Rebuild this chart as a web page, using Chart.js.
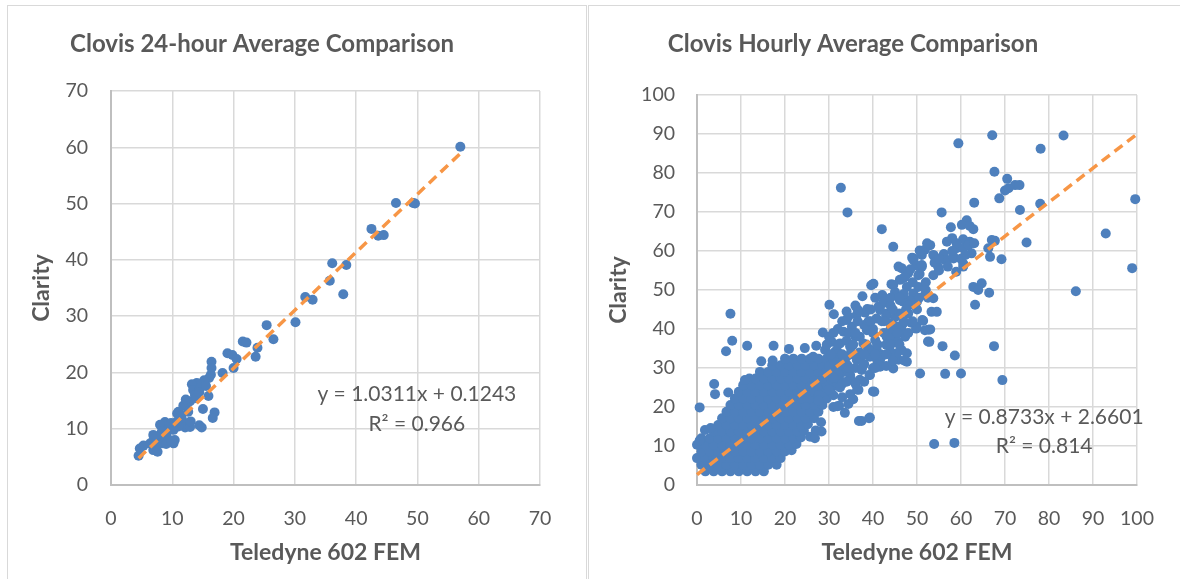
<!DOCTYPE html>
<html>
<head>
<meta charset="utf-8">
<title>Clovis comparison</title>
<script src="https://cdn.jsdelivr.net/npm/chart.js@4.4.1/dist/chart.umd.min.js"></script>
<style>
  html, body { margin: 0; padding: 0; background: #fff; overflow: hidden; }
  body { position: relative; width: 1180px; height: 579px; }
  .panel { position: absolute; border: 1px solid #d9d9d9; }
  #panelL { left: 7px; top: 5px; width: 578px; height: 600px; }
  #panelR { left: 588px; top: 5px; width: 620px; height: 600px; }
  canvas { position: absolute; top: 0; }
</style>
</head>
<body>
<div class="panel" id="panelL"></div>
<div class="panel" id="panelR"></div>
<canvas id="dailyChart" width="603" height="579" style="left:-16px"></canvas>
<canvas id="hourlyChart" width="611" height="579" style="left:569px"></canvas>

<script>
/* ===== 24-hour averages (Teledyne 602 FEM vs Clarity) ===== */
const dailyFem = [57.0, 46.5, 49.6, 49.3, 42.5, 43.6, 44.5, 36.1, 38.4, 35.7, 37.9, 31.7, 32.9, 30.1,
  25.4, 26.5, 21.5, 22.1, 23.9, 23.6, 19.0, 19.8, 20.5, 20.0, 16.4, 16.4, 18.2, 16.3, 16.0, 15.2,
  14.0, 13.2, 13.4, 14.5, 13.7, 15.9, 15.0, 16.9, 16.6, 12.5, 11.8, 11.0, 12.6, 10.8, 11.6, 11.8,
  12.1, 12.9, 14.4, 14.8, 11.0, 8.8, 8.0, 9.6, 9.3, 10.2, 6.9, 7.7, 9.1, 10.4, 10.2, 8.5, 7.5,
  5.3, 4.7, 6.9, 7.6, 4.5, 9.0, 9.9,
  12.9, 13.9, 14.4, 15.5, 11.5, 9.8, 8.3, 10.8, 13.0, 7.0, 6.4, 12.2];
const dailyClarity = [60.1, 50.1, 50.0, 50.1, 45.5, 44.3, 44.4, 39.4, 39.1, 36.3, 33.9, 33.4, 32.9, 28.9,
  28.4, 25.9, 25.5, 25.3, 24.4, 22.8, 23.4, 23.1, 22.4, 20.8, 21.9, 20.8, 19.9, 19.6, 19.0, 18.6,
  18.1, 17.9, 16.9, 17.2, 16.0, 15.8, 13.5, 12.9, 11.9, 14.6, 14.1, 13.0, 13.0, 12.7, 11.6, 11.0,
  10.2, 10.3, 10.6, 10.2, 10.4, 11.2, 10.7, 10.4, 9.8, 9.8, 8.9, 8.6, 8.6, 8.0, 7.4, 7.4, 7.1,
  7.0, 6.5, 6.2, 5.9, 5.2, 7.3, 7.8,
  14.9, 15.4, 16.5, 17.6, 12.4, 11.0, 9.5, 11.3, 11.3, 8.1, 7.4, 15.2];
const dailyTrendEq = [1.0311, 0.1243];
const dailyTrendRange = [4.5, 57];
const dailyR2 = 0.966;
const dailyTicks = [0, 10, 20, 30, 40, 50, 60, 70];

/* ===== hourly averages: [FEM, Clarity] ===== */
// the dense low-concentration cloud, read row by row
const hourlyDense = [
  [1.9,3.5],[3.8,3.5],[5.7,3.5],[7.6,3.5],[9.5,3.5],[11.4,3.5],[13.3,3.5],[15.2,3.5],
  [1.0,5.2],[2.9,5.2],[4.8,5.2],[6.7,5.2],[8.6,5.2],[10.5,5.2],[12.4,5.2],[14.3,5.2],[16.2,5.2],[18.1,5.2],
  [0.0,6.9],[1.9,6.9],[3.8,6.9],[5.7,6.9],[7.6,6.9],[9.5,6.9],[11.4,6.9],[13.3,6.9],[15.2,6.9],[17.1,6.9],[19.0,6.9],
  [1.0,8.6],[2.9,8.6],[4.8,8.6],[6.7,8.6],[8.6,8.6],[10.5,8.6],[12.4,8.6],[14.3,8.6],[16.2,8.6],[18.1,8.6],[20.0,8.6],[21.5,8.9],
  [0.0,10.3],[1.9,10.3],[3.8,10.3],[5.7,10.3],[7.6,10.3],[9.5,10.3],[11.4,10.3],[13.3,10.3],[15.2,10.3],[17.1,10.3],[19.0,10.3],[20.9,10.3],[22.6,10.5],
  [1.0,12.0],[2.9,12.0],[4.8,12.0],[6.7,12.0],[8.6,12.0],[10.5,12.0],[12.4,12.0],[14.3,12.0],[16.2,12.0],[18.1,12.0],[20.0,12.0],[21.9,12.0],[23.6,12.2],
  [3.8,13.7],[5.7,13.7],[7.6,13.7],[9.5,13.7],[11.4,13.7],[13.3,13.7],[15.2,13.7],[17.1,13.7],[19.0,13.7],[20.9,13.7],[22.8,13.7],[24.3,13.9],
  [4.8,15.4],[6.7,15.4],[8.6,15.4],[10.5,15.4],[12.4,15.4],[14.3,15.4],[16.2,15.4],[18.1,15.4],[20.0,15.4],[21.9,15.4],[23.8,15.4],[25.2,15.6],
  [5.7,17.1],[7.6,17.1],[9.5,17.1],[11.4,17.1],[13.3,17.1],[15.2,17.1],[17.1,17.1],[19.0,17.1],[20.9,17.1],[22.8,17.1],[24.7,17.1],[26.6,17.1],
  [6.7,18.8],[8.6,18.8],[10.5,18.8],[12.4,18.8],[14.3,18.8],[16.2,18.8],[18.1,18.8],[20.0,18.8],[21.9,18.8],[23.8,18.8],[25.7,18.8],[27.6,18.8],
  [7.6,20.5],[9.5,20.5],[11.4,20.5],[13.3,20.5],[15.2,20.5],[17.1,20.5],[19.0,20.5],[20.9,20.5],[22.8,20.5],[24.7,20.5],[26.6,20.5],[28.5,20.5],
  [8.6,22.2],[10.5,22.2],[12.4,22.2],[14.3,22.2],[16.2,22.2],[18.1,22.2],[20.0,22.2],[21.9,22.2],[23.8,22.2],[25.7,22.2],[27.6,22.2],[29.5,22.2],
  [9.5,23.9],[11.4,23.9],[13.3,23.9],[15.2,23.9],[17.1,23.9],[19.0,23.9],[20.9,23.9],[22.8,23.9],[24.7,23.9],[26.6,23.9],[28.5,23.9],[30.4,23.9],
  [10.5,25.6],[12.4,25.6],[14.3,25.6],[16.2,25.6],[18.1,25.6],[20.0,25.6],[21.9,25.6],[23.8,25.6],[25.7,25.6],[27.6,25.6],[29.5,25.6],[31.4,25.6],
  [11.9,27.3],[13.3,27.3],[15.2,27.3],[17.1,27.3],[19.0,27.3],[20.9,27.3],[22.8,27.3],[24.7,27.3],[26.6,27.3],[28.5,27.3],[30.4,27.3],[32.3,27.3],
  [14.3,29.0],[16.2,29.0],[18.1,29.0],[20.0,29.0],[21.9,29.0],[23.8,29.0],[25.7,29.0],[27.6,29.0],[29.5,29.0],[31.4,29.0],[33.3,29.0],
  [17.1,30.7],[19.0,30.7],[20.9,30.7],[22.8,30.7],[24.7,30.7],[26.6,30.7],[28.5,30.7],[30.4,30.7],[32.3,30.7],[34.2,30.7],
  [20.0,32.4],[21.9,32.4],[23.8,32.4],[25.7,32.4],[27.6,32.4],[29.5,32.4],[31.4,32.4],[33.3,32.4]
];
// the wider band along the trend
const hourlySpread = [
  [0.6,19.9],[0.6,11.4],[1.8,14.1],[3.1,14.6],[3.9,25.9],[4.1,23.3],[7.1,23.7],[10.9,26.9],[14.6,31.7],[17.2,31.9],
  [6.6,34.3],[8.0,37.0],[7.6,43.9],[11.4,35.7],[17.4,35.7],[20.9,34.9],[24.5,35.1],[27.1,35.7],[28.6,39.1],
  [26.4,32.9],[29.1,34.6],[31.4,34.2],[34.0,32.9],[36.3,32.1],[39.3,32.9],[41.6,32.1],[44.6,32.9],[47.7,33.8],[45.8,32.1],[47.7,31.6],
  [29.5,29.5],[32.1,28.6],[34.8,28.2],[37.4,29.5],[39.3,28.2],[41.6,30.3],[44.6,29.9],
  [30.6,36.7],[32.5,36.3],[34.8,35.5],[37.8,36.3],[40.5,37.2],[43.1,38.0],[45.4,40.6],[46.9,41.5],[44.6,37.2],
  [34.0,42.3],[36.3,43.6],[35.2,40.6],[38.6,39.7],[37.0,38.0],[33.3,39.3],
  [42.3,46.6],[43.1,44.0],[41.6,44.9],[43.9,41.5],[40.8,42.7],
  [38.2,44.2],[34.4,43.2],[42.7,47.4],[38.7,45.1],[42.1,48.7],
  [30.1,46.2],[31.1,43.8],[37.6,48.4],[40.1,51.6],[39.6,51.2],[44.2,51.5],
  [45.8,56.0],[46.9,53.0],[44.6,51.3],[48.0,54.3],[46.1,47.4],
  [46.1,52.6],[47.7,50.8],[49.2,49.1],[48.4,47.4],[46.9,47.0],[50.3,50.8],[51.8,48.7],[53.7,47.9],[53.3,44.4],[54.5,44.4],
  [49.2,58.1],[51.1,56.0],[46.5,55.6],[50.3,53.8],[47.3,53.4],[53.7,53.8],[54.8,56.0],
  [53.0,61.5],[51.8,60.3],[51.1,59.0],[53.9,58.7],[56.1,59.2],[56.8,57.7],[58.3,58.1],
  [58.0,63.3],[56.8,62.4],[60.5,63.0],[62.0,62.4],[59.0,60.7],[60.5,60.7],[61.7,61.5],
  [67.0,62.8],[67.7,62.6],[66.2,60.7],[66.6,58.5],[69.2,57.9],
  [61.3,67.9],[60.2,66.7],[62.8,65.6],[62.0,66.4],[57.7,66.1],
  [62.8,50.8],[64.7,51.7],[66.4,49.3],[63.2,46.2],[63.9,50.0],
  [60.5,56.0],[58.9,54.7],
  [52.8,36.7],[53.0,39.9],[51.4,42.1],[49.9,40.6],[51.8,39.7],[47.3,38.0],[46.5,34.6],[45.4,33.8],[43.9,34.2],
  [55.8,35.6],[58.6,33.2],[50.7,28.6],[56.4,28.5],[60.0,28.6],
  [39.2,28.2],[40.3,23.9],[36.7,24.4],[34.8,23.3],[32.3,20.3],[34.4,20.8],[33.6,18.5],[37.4,16.4],[39.3,17.3],
  [25.7,12.4],[26.8,12.0],[28.3,13.7],[31.0,20.0],[27.7,23.1],[27.6,21.6],[27.0,14.0],[28.2,16.1],
  [52.3,62.0],[50.6,60.1],[48.9,58.3],[49.8,56.3],[50.6,54.1],[48.5,55.3],
  [49.2,57.7],[51.1,56.4],[53.7,59.0],[56.4,57.7],[58.3,58.5],[60.5,56.8],[62.4,59.4],
  [52.6,39.8],[51.2,42.3],[48.7,41.6],[49.8,40.1],[46.4,40.4],[47.2,38.5],[43.9,38.2],[45.6,36.8],[52.5,36.8],
  [47.2,31.9],[44.5,31.9],[40.8,34.9],[41.7,33.5],[41.0,31.9],[37.0,32.5],[43.0,43.5],[41.3,45.8],[42.5,47.2],
  [30.0,30.5],[31.0,32.0],[32.0,34.0],[33.0,31.0],[34.0,37.0],[35.0,34.0],[36.0,30.0],[37.0,34.0],[38.0,31.0],
  [39.0,35.0],[40.0,30.0],[41.0,36.0],[42.0,33.0],[43.0,36.0],[44.0,40.0],[45.0,43.0],[36.0,38.0],[38.0,41.0],
  [40.0,40.0],[42.0,42.0],[35.0,27.0],[33.0,26.0],[31.0,27.5],[37.0,27.0],[30.0,38.0],[32.0,40.0],[34.0,44.5],
  [36.0,46.0],[39.0,42.0],[44.0,46.0],[46.0,44.0],[48.0,44.0],[48.0,46.0],[45.0,49.5],[47.0,49.0],[49.0,52.0],
  [50.0,47.0],[52.0,52.0],[52.0,50.0],[55.0,55.0],[54.0,57.0],[55.0,58.0],[57.0,56.0],[59.0,62.0],[60.0,58.0],
  [61.0,59.0],[63.0,62.0],[58.0,60.0],
  [34.5,30.0],[37.5,30.0],[40.5,30.0],[43.0,30.5],
  [30.5,33.5],[33.0,33.5],[35.5,33.5],[38.0,33.5],[40.5,33.5],[43.0,33.5],
  [29.5,36.0],[32.0,36.0],[35.5,36.0],[38.5,36.0],[41.0,36.0],[44.0,36.0],[46.0,36.0],
  [31.0,39.0],[34.5,39.0],[36.0,39.0],[40.0,39.0],[42.5,39.0],[45.5,39.0],[48.0,39.0],
  [33.0,42.0],[36.5,42.0],[39.5,42.0],[42.5,42.0],[47.0,42.0],[49.0,42.0],
  [36.5,45.0],[39.5,45.0],[44.5,45.0],[47.5,45.0],[50.0,45.0],
  [40.5,48.0],[44.0,48.0],[46.0,48.0],[50.5,48.0],[52.5,48.0],
  [31.0,23.0],[32.5,25.0],[34.0,26.5],[30.0,24.5],[36.0,26.0],[38.0,26.5],[33.0,22.5],[35.5,22.0]
];
// scattered high and off-line values
const hourlyOutliers = [
  [32.7,76.2],[34.2,69.9],[42.0,65.6],[44.6,61.1],[55.6,69.9],[59.4,87.6],[67.1,89.7],[83.3,89.6],[78.1,86.2],
  [67.6,80.3],[70.5,78.5],[72.3,76.9],[73.3,76.9],[70.0,75.5],[70.8,76.1],[68.7,73.5],[63.0,72.4],[78.0,72.1],
  [99.6,73.3],[73.4,70.5],[92.9,64.5],[74.9,62.2],[98.9,55.6],[86.1,49.7],
  [67.5,35.6],[69.4,26.9],[53.9,10.5],[58.5,10.8],[40.0,24.0],[36.4,24.5],[31.9,20.2],[36.8,16.4],[39.1,17.1]
];
const hourlyTrendEq = [0.8733, 2.6601];
const hourlyTrendRange = [0, 100];
const hourlyR2 = 0.814;
const hourlyTicks = [0, 10, 20, 30, 40, 50, 60, 70, 80, 90, 100];

/* ===== shared look ===== */
Chart.defaults.font.family = 'Lato, "Open Sans", sans-serif';
Chart.defaults.color = '#595959';

const GRID = '#d9d9d9';
const AXIS = '#bfbfbf';
const BLUE = '#4e80bd';
const ORANGE = '#f79646';

const trendLine = (eq, range) => range.map(x => ({ x, y: eq[0] * x + eq[1] }));
const eqLines = (eq, r2) => ['y = ' + eq[0] + 'x + ' + eq[1], 'R\u00B2 = ' + r2];

// equation + R² label, anchored in data units
const trendLabel = {
  id: 'trendLabel',
  afterDatasetsDraw(chart, args, opts) {
    const { ctx, scales: { x, y } } = chart;
    const px = x.getPixelForValue(opts.at[0]);
    const py = y.getPixelForValue(opts.at[1]);
    ctx.save();
    ctx.font = '21px Lato';
    ctx.fillStyle = '#595959';
    ctx.textAlign = 'center';
    ctx.textBaseline = 'middle';
    opts.lines.forEach((t, i) => ctx.fillText(t, px, py + i * opts.gap));
    ctx.restore();
  }
};

function axis(ticks, title, cfg) {
  return {
    type: 'linear',
    min: ticks[0],
    max: ticks[ticks.length - 1],
    afterBuildTicks: s => { s.ticks = ticks.map(v => ({ value: v })); },
    grid: { color: GRID, lineWidth: 1.5, drawTicks: false },
    border: { color: AXIS, width: 2 },
    ticks: { padding: cfg.tickPad, font: { size: 19.5 } },
    title: { display: true, text: title, font: { size: 23, weight: 'bold' }, padding: cfg.titlePad },
    afterFit: cfg.fit
  };
}

function scatterChart(canvasId, o) {
  return new Chart(document.getElementById(canvasId), {
    type: 'scatter',
    data: {
      datasets: [
        { data: o.trend, showLine: true, borderColor: ORANGE, borderWidth: 3.5, borderDash: [10, 6],
          pointRadius: 0, radius: 0, clip: false },
        { data: o.points, backgroundColor: BLUE, borderColor: BLUE, borderWidth: 0,
          pointBackgroundColor: BLUE, pointBorderWidth: 0, radius: 5, pointRadius: 5, clip: false }
      ]
    },
    options: {
      responsive: false,
      animation: false,
      events: [],
      layout: { padding: { left: 0, right: o.padRight, top: 0, bottom: 8.4 } },
      plugins: {
        legend: { display: false },
        tooltip: { enabled: false },
        title: { display: true, text: o.title, color: '#595959', font: { size: 24, weight: 'bold' },
                 padding: { top: 29.6, bottom: o.titleGap } },
        trendLabel: { lines: o.label, at: o.labelAt, gap: o.labelGap }
      },
      scales: {
        x: axis(o.xTicks, 'Teledyne 602 FEM', { tickPad: 22.3, titlePad: { top: 4, bottom: 4 },
             fit: s => { s.height = 85.6; } }),
        y: axis(o.yTicks, 'Clarity', { tickPad: o.yTickPad, titlePad: { top: o.yTitleOffset, bottom: 4 },
             fit: s => { s.width = o.yWidth; } })
      }
    },
    plugins: [trendLabel]
  });
}

scatterChart('dailyChart', {
  title: 'Clovis 24-hour Average Comparison',
  points: dailyFem.map((x, i) => ({ x, y: dailyClarity[i] })),
  trend: trendLine(dailyTrendEq, dailyTrendRange),
  label: eqLines(dailyTrendEq, dailyR2),
  labelAt: [49.9, 16.2], labelGap: 30,
  xTicks: dailyTicks, yTicks: dailyTicks,
  padRight: 47, titleGap: 32.6,
  yWidth: 127, yTickPad: 23, yTitleOffset: 43.3
});

scatterChart('hourlyChart', {
  title: 'Clovis Hourly Average Comparison',
  points: [...hourlyDense, ...hourlySpread, ...hourlyOutliers].map(([x, y]) => ({ x, y })),
  trend: trendLine(hourlyTrendEq, hourlyTrendRange),
  label: eqLines(hourlyTrendEq, hourlyR2),
  labelAt: [78.9, 17.4], labelGap: 29,
  xTicks: hourlyTicks, yTicks: hourlyTicks,
  padRight: 43, titleGap: 36.6,
  yWidth: 128, yTickPad: 22, yTitleOffset: 35.3
});
</script>
</body>
</html>
